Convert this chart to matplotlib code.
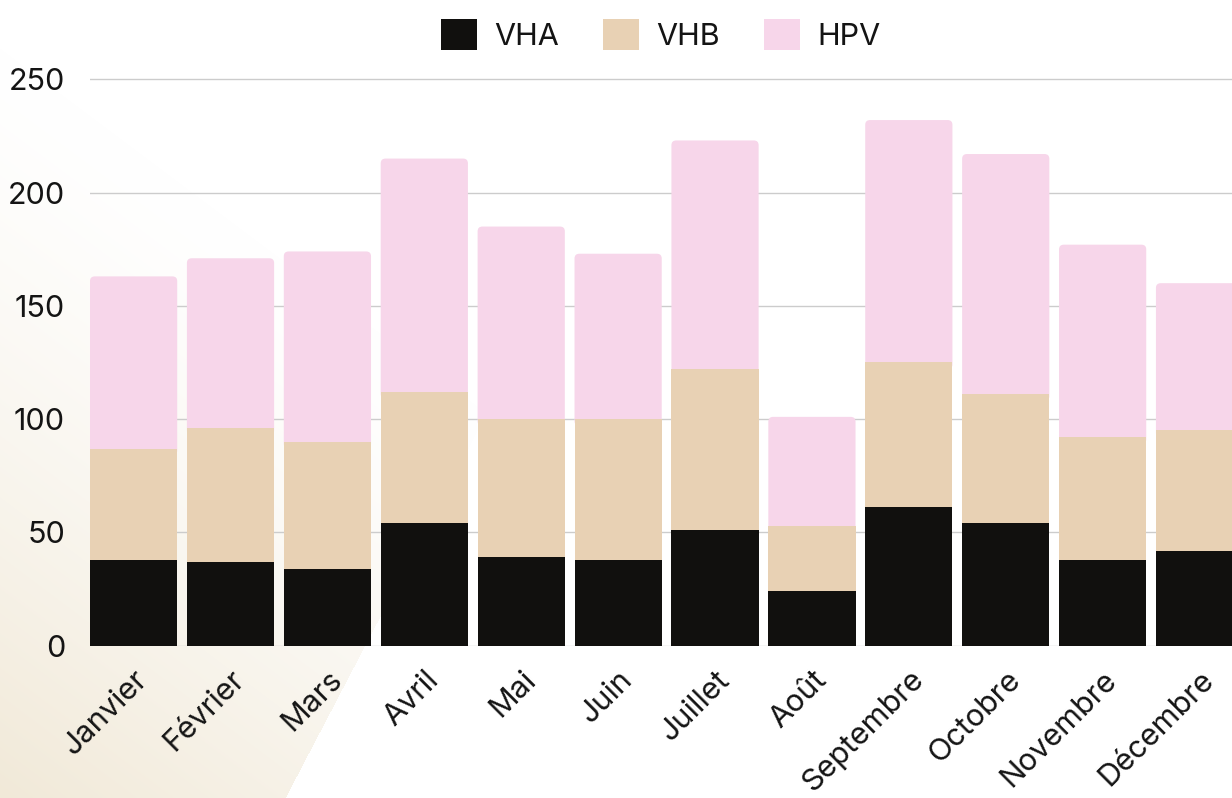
import numpy as np
import matplotlib
matplotlib.use('Agg')
import matplotlib.pyplot as plt
from matplotlib.patches import FancyBboxPatch, Patch
from matplotlib.transforms import ScaledTranslation

# data
months = ['Janvier', 'Février', 'Mars', 'Avril', 'Mai', 'Juin', 'Juillet',
          'Août', 'Septembre', 'Octobre', 'Novembre', 'Décembre']
vha = [38, 37, 34, 54, 39, 38, 51, 24, 61, 54, 38, 42]
vhb = [49, 59, 56, 58, 61, 62, 71, 29, 64, 57, 54, 53]
hpv = [76, 75, 84, 103, 85, 73, 101, 48, 107, 106, 85, 65]
series = ['VHA', 'VHB', 'HPV']
colors = ['#11100e', '#e8d1b4', '#f7d6ea']
y_ticks = [0, 50, 100, 150, 200, 250]

plt.rcParams['font.family'] = ['Inter', 'DejaVu Sans']
text_color = '#141414'
fs = 22

W, H = 1232, 798
fig = plt.figure(figsize=(W / 100, H / 100), dpi=100)

# soft beige gradient in the lower-left corner
bg = fig.add_axes([0, 0, 1, 1], zorder=0)
yy, xx = np.mgrid[0:H, 0:W]
d = 0.6 * xx + 0.8 * (H - yy)
t = np.clip(1 - d / 600, 0, 1) ** 1.35
t[xx > 365 - 0.523 * (yy - 645)] = 0
beige = np.array([241, 233, 216]) / 255
img = 1 - t[..., None] * (1 - beige)
bg.imshow(img, extent=(0, W, H, 0), aspect='auto', interpolation='bilinear')
bg.set_axis_off()

ax = fig.add_axes([90 / W, (H - 645.7) / H, 1142 / W, 568.7 / H], zorder=1)
ax.patch.set_alpha(0)

x = np.arange(len(months))
width = 0.9
ax.bar(x, vha, width, color=colors[0], zorder=3)
ax.bar(x, vhb, width, bottom=vha, color=colors[1], zorder=3)
bars = ax.bar(x, hpv, width, bottom=np.add(vha, vhb), color=colors[2], zorder=2)

# rounded top corners on the top segment
rx, ry = 0.05, 2.1
for rect in list(bars.patches):
    x0, y0, w, h = rect.get_x(), rect.get_y(), rect.get_width(), rect.get_height()
    rect.remove()
    ax.add_patch(FancyBboxPatch((x0, y0 - 3), w, h + 3,
                                boxstyle=f'round,pad=0,rounding_size={rx}',
                                mutation_aspect=ry / rx, facecolor=colors[2],
                                edgecolor='none', zorder=2))

ax.set_xlim(-0.45, 11.335)
ax.set_ylim(0, 251)
ax.set_yticks(y_ticks)
ax.set_xticks(x)
ax.tick_params(axis='x', length=0, pad=12, labelsize=fs, labelcolor=text_color)
ax.tick_params(axis='y', length=0, pad=18, labelsize=fs, labelcolor=text_color)
ax.set_xticklabels(months, rotation=45, ha='right', va='center',
                   rotation_mode='anchor')
shift = ScaledTranslation(10 / 100, -13 / 100, fig.dpi_scale_trans)
for lab in ax.get_xticklabels():
    lab.set_transform(lab.get_transform() + shift)
ax.grid(axis='y', color='#cccccc', lw=1)
ax.set_axisbelow(True)
for s in ax.spines.values():
    s.set_visible(False)

handles = [Patch(facecolor=c, edgecolor='none') for c in colors]
fig.legend(handles, series, loc='center', bbox_to_anchor=(661 / W, 1 - 35 / H),
           ncol=3, frameon=False, fontsize=fs, handlelength=1.18, handleheight=1.18,
           handletextpad=0.56, columnspacing=1.44, labelcolor=text_color)

fig.savefig('out.png', dpi=100)
